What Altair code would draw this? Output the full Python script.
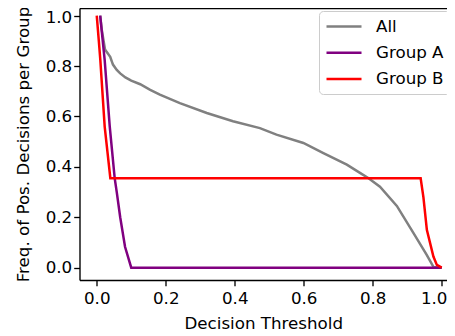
import altair as alt
import pandas as pd

# Data
all_x = [0.01, 0.0145, 0.024, 0.039, 0.047, 0.058, 0.068, 0.083, 0.1, 0.126, 0.155, 0.183, 0.241,
         0.319, 0.395, 0.473, 0.521, 0.599, 0.657, 0.725, 0.763, 0.787, 0.821, 0.87, 0.917,
         0.957, 0.976, 1.0]
all_y = [1.0, 0.944, 0.866, 0.837, 0.806, 0.785, 0.771, 0.755, 0.742, 0.728, 0.706, 0.687, 0.653,
         0.614, 0.581, 0.554, 0.528, 0.495, 0.455, 0.409, 0.376, 0.356, 0.321, 0.245, 0.14,
         0.05, 0.003, 0.0]

a_x = [0.01, 0.023, 0.0377, 0.052, 0.058, 0.068, 0.082, 0.1, 1.0]
a_y = [1.0, 0.824, 0.56, 0.355, 0.3, 0.2, 0.083, 0.0, 0.0]

b_x = [0.0, 0.006, 0.0104, 0.023, 0.0394, 0.939, 0.947, 0.957, 0.976, 0.986, 1.0]
b_y = [1.0, 0.9, 0.824, 0.56, 0.355, 0.355, 0.28, 0.15, 0.044, 0.011, 0.0]

series_names = ["All", "Group A", "Group B"]
series_colors = ["gray", "purple", "red"]
tick_vals = [0.0, 0.2, 0.4, 0.6, 0.8, 1.0]

rows = []
for name, xs, ys in [("All", all_x, all_y), ("Group A", a_x, a_y), ("Group B", b_x, b_y)]:
    for i, (xv, yv) in enumerate(zip(xs, ys)):
        rows.append({"series": name, "x": xv, "y": yv, "i": i})
df = pd.DataFrame(rows)

FONT = "DejaVu Sans"
FS = 16.7

xscale = alt.Scale(domain=[-0.05, 1.0154], nice=False, zero=False)
yscale = alt.Scale(domain=[-0.049, 1.0306], nice=False, zero=False)

axis_common = dict(
    values=tick_vals, format=".1f", grid=False,
    domainColor="black", domainWidth=1.33,
    tickColor="black", tickWidth=1.33, tickSize=5.8,
    labelFont=FONT, labelFontSize=FS, labelColor="black",
    titleFont=FONT, titleFontSize=FS, titleColor="black", titleFontWeight="normal",
    labelFlush=False, labelOverlap=False,
)

y_enc = alt.Y("y:Q", scale=yscale,
              axis=alt.Axis(title="Freq. of Pos. Decisions per Group", labelPadding=2,
                            titlePadding=13,
                            labelOffset={"condition": {"test": "datum.value >= 1", "value": 1.5}, "value": 0},
                            **axis_common))

lines = alt.Chart(df).mark_line(strokeWidth=2.5, clip=True).encode(
    x=alt.X("x:Q", scale=xscale,
            axis=alt.Axis(title="Decision Threshold", labelPadding=5, titlePadding=8,
                          labelOffset={"condition": {"test": "datum.value >= 1", "value": -8}, "value": 0},
                          **axis_common)),
    y=y_enc,
    color=alt.Color("series:N",
                    scale=alt.Scale(domain=series_names, range=series_colors),
                    sort=series_names,
                    legend=alt.Legend(
                        title=None, orient="none", legendX=239.5, legendY=3,
                        symbolType="M-1,0H3.375", symbolSize=256, symbolStrokeWidth=2.5,
                        labelFont=FONT, labelFontSize=FS, labelColor="black",
                        labelOffset=32, padding=6, rowPadding=7.3,
                        strokeColor="#cccccc", fillColor="white", cornerRadius=4,
                    )),
    detail="series:N",
    order="i:Q",
)

top_spine = alt.Chart(df).mark_line(opacity=0).encode(
    x=alt.X("x:Q", scale=xscale,
            axis=alt.Axis(orient="top", labels=False, ticks=False, title="", grid=False,
                          domainColor="black", domainWidth=1.33)),
    y=y_enc,
    detail="series:N",
)

chart = alt.layer(lines, top_spine).resolve_axis(x="independent").properties(
    width=367.5, height=272,
    autosize=alt.AutoSizeParams(type="none"),
    padding={"left": 71.5, "top": 0, "right": 0, "bottom": 56},
).configure_view(strokeWidth=0).configure(font=FONT)

chart.save("out.html", embed_options={"renderer": "svg", "actions": False})
